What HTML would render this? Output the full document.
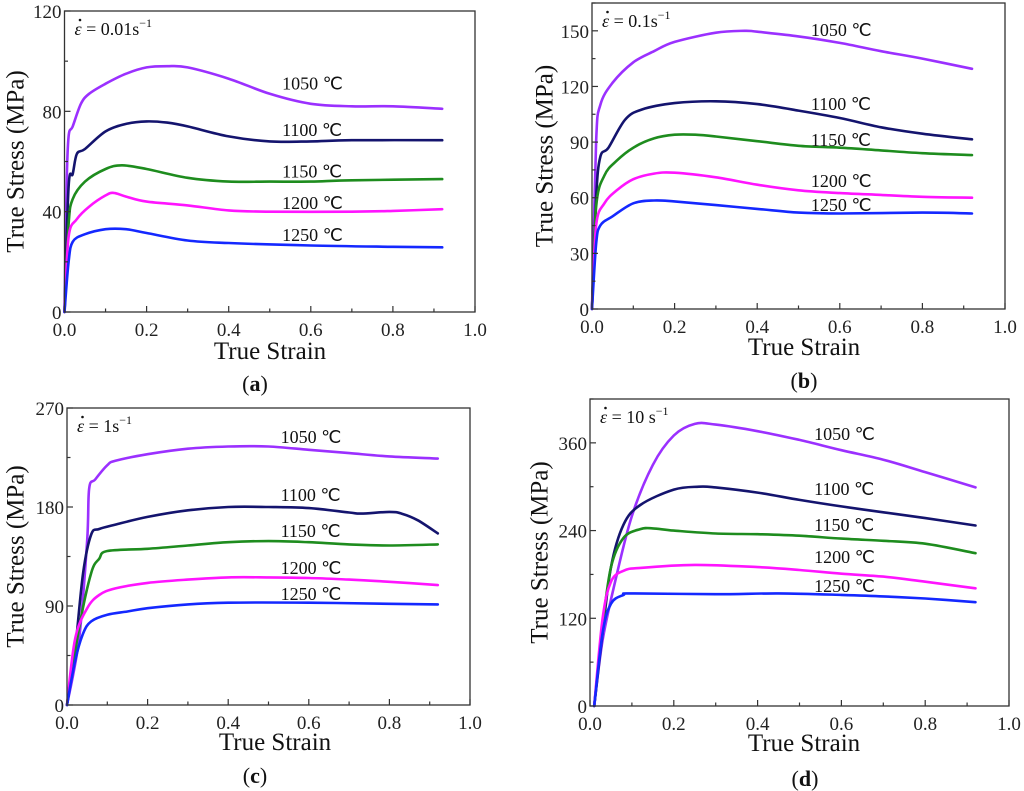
<!DOCTYPE html>
<html><head><meta charset="utf-8"><style>
html,body{margin:0;padding:0;background:#fff;}
svg{display:block;font-family:"Liberation Serif",serif;}
</style></head><body>
<svg id="fig" width="1024" height="791" viewBox="0 0 1024 791"></svg>
<script>
const temps = ["1050 ℃","1100 ℃","1150 ℃","1200 ℃","1250 ℃"];
const colors = ["#9b30ff","#14146e","#1e8c1e","#ff14ff","#1428ff"];
const xTicks = [0,0.2,0.4,0.6,0.8,1.0];
const xTickLabels = ["0.0","0.2","0.4","0.6","0.8","1.0"];
const panelNames = ["a","b","c","d"];
const rateLabels = ["0.01s","0.1s","1s","10 s"];
const yTicksA = [0,40,80,120];
const yTicksB = [0,30,60,90,120,150];
const yTicksC = [0,90,180,270];
const yTicksD = [0,120,240,360];
const yMaxes = [120,165,270,420];
const seriesA = [
 [[0,0],[0.005,50],[0.01,70],[0.02,74],[0.04,83],[0.06,87],[0.1,91],[0.15,95],[0.2,97.5],[0.25,98],[0.3,97.5],[0.4,93],[0.5,87],[0.6,83],[0.7,82],[0.8,82],[0.92,81]],
 [[0,0],[0.01,50],[0.02,55],[0.03,63],[0.05,65],[0.1,72],[0.15,75],[0.2,76],[0.25,75.5],[0.3,74],[0.4,70],[0.5,68],[0.6,68],[0.7,68.5],[0.92,68.5]],
 [[0,0],[0.01,35],[0.02,45],[0.05,52],[0.1,57],[0.14,58.5],[0.2,57],[0.3,53.5],[0.4,52],[0.5,52],[0.6,52],[0.7,52.5],[0.92,53]],
 [[0,0],[0.01,30],[0.03,37],[0.06,42],[0.1,46.5],[0.12,47.5],[0.15,46],[0.2,44],[0.3,42.5],[0.4,40.5],[0.5,40],[0.7,40],[0.8,40.3],[0.92,41]],
 [[0,0],[0.01,20],[0.02,28],[0.05,31],[0.1,33],[0.15,33],[0.2,31.5],[0.3,28.5],[0.4,27.5],[0.6,26.5],[0.8,26],[0.92,25.8]]
];
const seriesB = [
 [[0,0],[0.01,90],[0.02,110],[0.05,122],[0.1,133],[0.15,139],[0.2,144],[0.3,149],[0.37,150],[0.4,149.5],[0.5,147],[0.6,143.5],[0.7,139],[0.8,135],[0.92,129.5]],
 [[0,0],[0.01,60],[0.02,82],[0.04,87],[0.08,102],[0.12,107.5],[0.2,111],[0.3,112],[0.4,110.5],[0.5,107],[0.6,103],[0.7,98],[0.8,94.5],[0.92,91.5]],
 [[0,0],[0.01,55],[0.03,72],[0.06,80],[0.1,87],[0.15,92],[0.2,94],[0.25,94],[0.3,93],[0.4,90.5],[0.5,88],[0.6,87],[0.7,85.5],[0.8,84],[0.92,83]],
 [[0,0],[0.01,45],[0.03,57],[0.06,64],[0.1,70],[0.15,73],[0.2,73.5],[0.3,71],[0.4,67],[0.5,64],[0.6,62.5],[0.7,61.5],[0.8,60.5],[0.92,60]],
 [[0,0],[0.01,35],[0.02,45],[0.05,50],[0.1,57],[0.15,58.5],[0.2,58],[0.3,56],[0.4,54],[0.5,52],[0.6,51.5],[0.8,52],[0.92,51.5]]
];
const seriesC = [
 [[0,0],[0.03,60],[0.05,150],[0.055,197],[0.07,205],[0.1,218],[0.12,222],[0.2,228],[0.3,233],[0.4,235],[0.5,235],[0.6,232],[0.7,229],[0.8,226],[0.92,224]],
 [[0,0],[0.02,50],[0.04,120],[0.06,155],[0.08,160],[0.12,164],[0.2,171],[0.3,177],[0.4,180],[0.5,180],[0.6,179],[0.7,175],[0.73,174],[0.8,175.5],[0.83,174],[0.87,168],[0.92,156]],
 [[0,0],[0.03,70],[0.06,120],[0.08,133],[0.1,140],[0.2,142],[0.3,145],[0.4,148],[0.5,149],[0.6,148],[0.7,146],[0.8,145],[0.92,146]],
 [[0,0],[0.02,60],[0.05,88],[0.08,100],[0.12,106],[0.2,111],[0.3,114],[0.4,116],[0.5,116],[0.6,115.5],[0.7,114],[0.8,112],[0.92,109]],
 [[0,0],[0.02,40],[0.04,65],[0.06,76],[0.1,82],[0.15,85],[0.2,88],[0.3,91.5],[0.4,93],[0.6,93],[0.8,92],[0.92,91.5]]
];
const seriesD = [
 [[0.01,0],[0.03,90],[0.06,170],[0.1,260],[0.15,330],[0.2,370],[0.25,386],[0.3,385],[0.4,376],[0.5,364],[0.6,350],[0.7,337],[0.8,320],[0.92,299]],
 [[0.01,0],[0.03,100],[0.05,190],[0.08,248],[0.12,275],[0.2,296],[0.26,300],[0.3,299],[0.4,292],[0.5,282],[0.6,273],[0.7,265],[0.8,257],[0.92,247]],
 [[0.01,0],[0.03,110],[0.05,190],[0.08,230],[0.12,242],[0.15,243],[0.2,240],[0.3,236],[0.4,235],[0.5,233],[0.6,229],[0.7,226],[0.8,222],[0.92,209]],
 [[0.01,0],[0.03,120],[0.05,170],[0.08,185],[0.12,189],[0.25,193],[0.4,190],[0.5,186],[0.6,181],[0.7,177],[0.8,170],[0.92,161]],
 [[0.01,0],[0.03,100],[0.05,140],[0.08,152],[0.1,154],[0.3,153],[0.45,154],[0.6,152],[0.7,150],[0.8,147],[0.92,142]]
];
const labelX = [0.53,0.53,0.53,0.535];
const labelYA = [91,72.5,56,43.5,30.7];
const labelYB = [150.5,110.6,91,69,56];
const labelYC = [243.6,191,158,124.5,101];
const labelYD = [372,297,247.6,204,164];

const layout = [
 {l:64.5,r:475,t:11,b:312, yt:16, xt:[270,359], cap:[255,391]},
 {l:592,r:1005,t:3,b:309, yt:545, xt:[804,355], cap:[804,388]},
 {l:67,r:470,t:408,b:705, yt:16, xt:[275,750], cap:[255,783]},
 {l:590,r:1009,t:399,b:706, yt:540, xt:[804,751], cap:[805,786]}
];
const allSeries=[seriesA,seriesB,seriesC,seriesD];
const allYTicks=[yTicksA,yTicksB,yTicksC,yTicksD];
const allLabelY=[labelYA,labelYB,labelYC,labelYD];
const NS="http://www.w3.org/2000/svg";
const svg=document.getElementById('fig');
function mk(tag,attrs,parent,text){const e=document.createElementNS(NS,tag);for(const k in attrs)e.setAttribute(k,attrs[k]);if(text!==undefined)e.textContent=text;parent.appendChild(e);return e;}
function smooth(P){
 let d='M'+P[0][0].toFixed(1)+','+P[0][1].toFixed(1);
 for(let i=0;i<P.length-1;i++){
  const p0=P[Math.max(i-1,0)],p1=P[i],p2=P[i+1],p3=P[Math.min(i+2,P.length-1)];
  const c1=[p1[0]+(p2[0]-p0[0])/6,p1[1]+(p2[1]-p0[1])/6];
  const c2=[p2[0]-(p3[0]-p1[0])/6,p2[1]-(p3[1]-p1[1])/6];
  d+='C'+c1[0].toFixed(1)+','+c1[1].toFixed(1)+' '+c2[0].toFixed(1)+','+c2[1].toFixed(1)+' '+p2[0].toFixed(1)+','+p2[1].toFixed(1);
 }
 return d;
}

for(let p=0;p<4;p++){
 const L=layout[p], ymax=yMaxes[p];
 const xs=v=>L.l+v*(L.r-L.l);
 const ys=v=>L.b-v/ymax*(L.b-L.t);
 const g=mk('g',{},svg);
 
 
 for(let s=0;s<5;s++){
  const pts=allSeries[p][s].map(pt=>[xs(pt[0]),ys(pt[1])]);
  const path=mk('path',{d:smooth(pts),fill:'none',stroke:colors[s],'stroke-width':2.6,'stroke-linejoin':'round','stroke-linecap':'round'},g);
  
  
  const t=mk('text',{x:xs(labelX[p]),y:ys(allLabelY[p][s])+6,'font-size':18,fill:'#111'},g,temps[s]);
  
  
 }
 const fr=mk('rect',{x:L.l,y:L.t,width:L.r-L.l,height:L.b-L.t,fill:'none',stroke:'#333','stroke-width':1.3},g);
 
 
 for(let i=0;i<=10;i++){const v=i/10, x=xs(v), len=i%2?3.5:6;
  mk('line',{x1:x,x2:x,y1:L.b,y2:L.b-len,stroke:'#333','stroke-width':1.2},g);}
 xTicks.forEach((v,i)=>{const t=mk('text',{x:xs(v),y:L.b+24,'font-size':19,'text-anchor':'middle',fill:'#222'},g,xTickLabels[i]);
  
  });
 const yt=allYTicks[p], step=yt[1]-yt[0];
 for(let v=0;v<=ymax+0.01;v+=step/2){const y=ys(v), major=Math.abs((v/step)-Math.round(v/step))<0.01;
  mk('line',{x1:L.l,x2:L.l+(major?6:3.5),y1:y,y2:y,stroke:'#333','stroke-width':1.2},g);}
 yt.forEach(v=>{const t=mk('text',{x:L.l-3,y:ys(v)+7,'font-size':19,'text-anchor':'end',fill:'#222'},g,String(v));
  
  });
 const cy=(L.t+L.b)/2;
 const ytl=mk('text',{x:L.yt,y:cy,'font-size':25,'text-anchor':'middle',fill:'#111',transform:`rotate(-90 ${L.yt} ${cy})`,'dominant-baseline':'central'},g,'True Stress (MPa)');
 
 
 const xtl=mk('text',{x:L.xt[0],y:L.xt[1],'font-size':25,'text-anchor':'middle',fill:'#111'},g,'True Strain');
 
 
 const cap=mk('text',{x:L.cap[0],y:L.cap[1],'font-size':22,'text-anchor':'middle',fill:'#111'},g);
 
 
 mk('tspan',{},cap,'(');mk('tspan',{'font-weight':'bold'},cap,panelNames[p]);mk('tspan',{},cap,')');
 const ra=mk('text',{x:L.l+10,y:L.t+24,'font-size':18,fill:'#111'},g);
 
 
 mk('tspan',{'font-style':'italic'},ra,'ε');
 mk('tspan',{},ra,' = '+rateLabels[p]);
 mk('tspan',{'font-size':12,dy:-8},ra,'−1');
 mk('circle',{cx:L.l+15.5,cy:L.t+9,r:1.3,fill:'#111'},g);
}
</script>
</body></html>
